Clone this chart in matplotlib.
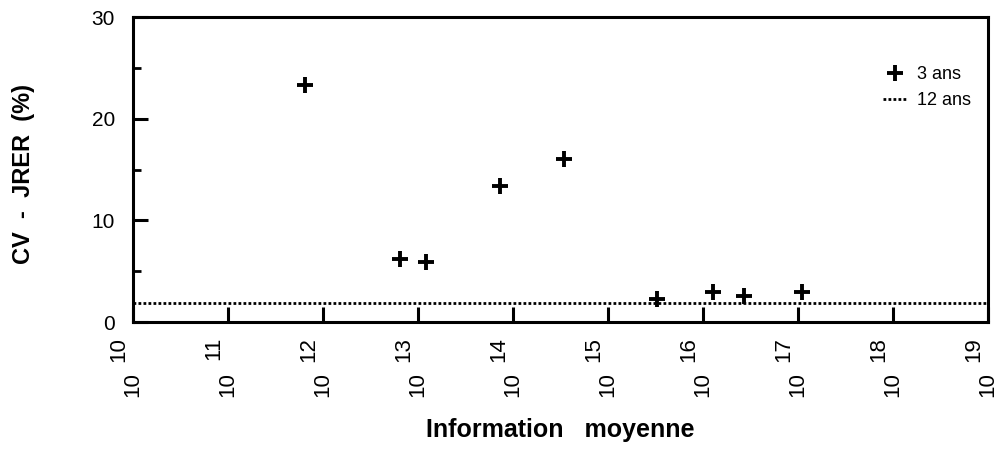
import matplotlib
matplotlib.use("Agg")
import matplotlib.pyplot as plt
import numpy as np
from matplotlib.ticker import FixedLocator, NullLocator, NullFormatter
from matplotlib.transforms import offset_copy

plt.rcParams['font.family'] = ['Liberation Sans', 'DejaVu Sans']

# Data
info_exponent_3ans = [11.81, 12.81, 13.09, 13.86, 14.54, 15.52, 16.11, 16.43, 17.04]
cv_3ans = [23.3, 6.2, 5.9, 13.4, 16.0, 2.3, 3.0, 2.6, 2.95]
cv_12ans = 1.9
x_exponents = list(range(10, 20))
y_ticks = [0, 10, 20, 30]
y_minor_ticks = [5, 15, 25]

x_3ans = [10.0 ** e for e in info_exponent_3ans]

DPI = 100
fig = plt.figure(figsize=(10.05, 4.51), dpi=DPI)
ax = fig.add_axes([0.1323, 0.286, 0.8507, 0.676])

ax.plot(x_3ans, cv_3ans, linestyle='none', marker='+', markersize=11,
        markeredgewidth=2.8, color='black', label='3 ans')
ax.axhline(cv_12ans, color='black', linestyle=(0, (1, 0.8)), linewidth=2.0,
           label='12 ans')

ax.set_xscale('log')
ax.set_xlim(10.0 ** x_exponents[0], 10.0 ** x_exponents[-1])
ax.set_ylim(0, 30)

ax.xaxis.set_major_locator(FixedLocator([10.0 ** e for e in x_exponents]))
ax.xaxis.set_minor_locator(NullLocator())
ax.xaxis.set_major_formatter(NullFormatter())
ax.set_yticks(y_ticks)
ax.set_yticks(y_minor_ticks, minor=True)
ax.tick_params(axis='y', labelsize=15, pad=13)

# x tick labels: "10" with a same-size raised exponent, rotated 90 degrees
trans = ax.get_xaxis_transform()
for e in x_exponents:
    xv = 10.0 ** e
    tb = offset_copy(trans, fig=fig, x=5, y=-50, units='dots')
    ax.text(xv, 0, '10', transform=tb, rotation=90, rotation_mode='anchor',
            ha='right', va='baseline', fontsize=16, clip_on=False)
    te = offset_copy(trans, fig=fig, x=-9, y=-15, units='dots')
    ax.text(xv, 0, str(e), transform=te, rotation=90, rotation_mode='anchor',
            ha='right', va='baseline', fontsize=16, clip_on=False)

for s in ax.spines.values():
    s.set_linewidth(2.2)
ax.tick_params(which='major', direction='in', length=11, width=2.2,
               top=False, right=False)
ax.tick_params(which='minor', direction='in', length=6, width=2.0,
               top=False, right=False)

ax.set_ylabel('CV  -  JRER  (%)', fontsize=17, fontweight='bold')
ax.yaxis.set_label_coords(-0.114, 0.485)
ax.set_xlabel('Information   moyenne', fontsize=18, fontweight='bold')
ax.xaxis.set_label_coords(0.5, -0.315)

leg = ax.legend(loc='upper left', frameon=False, fontsize=13,
                handlelength=1.4, handletextpad=0.5, labelspacing=0.5,
                borderpad=0, borderaxespad=0,
                bbox_to_anchor=(0.877, 0.84))

fig.savefig('out.png', dpi=DPI)
